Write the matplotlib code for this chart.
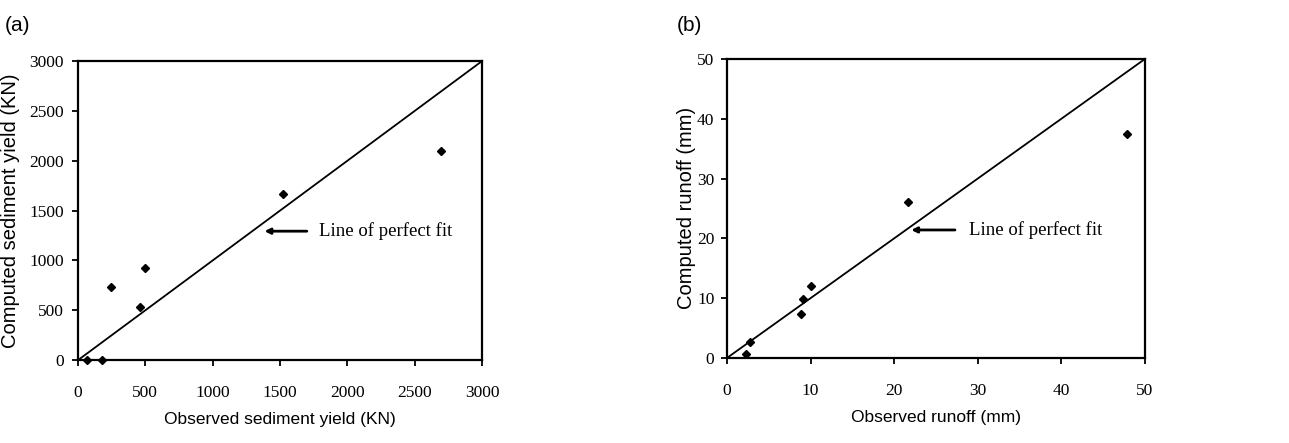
import matplotlib.pyplot as plt

# panel (a): sediment yield, KN
obs_sed = [69, 181, 245, 460, 497, 1520, 2696]
comp_sed = [0, 0, 729, 535, 920, 1672, 2097]

# panel (b): runoff, mm
obs_run = [2.3, 2.75, 8.85, 9.05, 10.05, 21.6, 47.9]
comp_run = [0.7, 2.7, 7.4, 9.8, 12.1, 26.1, 37.4]

sed_ticks = [0, 500, 1000, 1500, 2000, 2500, 3000]
run_ticks = [0, 10, 20, 30, 40, 50]

serif = 'Liberation Serif'
sans = 'Liberation Sans'

fig = plt.figure(figsize=(12.89, 4.43), dpi=100)
ax1 = fig.add_axes([0.0605, 0.187, 0.3134, 0.675])
ax2 = fig.add_axes([0.564, 0.192, 0.3243, 0.675])


def style_axes(ax, ticks, xlabel, ylabel, ylab_x, ypad):
    ax.set_xlim(ticks[0], ticks[-1])
    ax.set_ylim(ticks[0], ticks[-1])
    ax.set_xticks(ticks)
    ax.set_yticks(ticks)
    for lab in ax.get_xticklabels() + ax.get_yticklabels():
        lab.set_fontfamily(serif)
        lab.set_fontsize(12.5)
    ax.tick_params(direction='out', length=4, width=1.3)
    ax.tick_params(axis='x', pad=14)
    ax.tick_params(axis='y', pad=ypad)
    ax.tick_params(top=False, right=False)
    for s in ax.spines.values():
        s.set_linewidth(1.6)
    ax.set_xlabel(xlabel, fontsize=12.5, family=sans, labelpad=8)
    ax.set_ylabel(ylabel, fontsize=14.5, family=sans)
    ax.yaxis.set_label_coords(ylab_x, 0.5)


# (a)
ax1.plot([0, 3000], [0, 3000], color='black', lw=1.3)
ax1.plot(obs_sed, comp_sed, linestyle='None', marker='D', ms=4, color='black', clip_on=False)
ax1.annotate('', xy=(1364, 1294), xytext=(1720, 1294),
             arrowprops=dict(arrowstyle='-|>', color='black', lw=2, mutation_scale=8))
ax1.text(1790, 1294, 'Line of perfect fit', family=serif, fontsize=13.5, va='center')
style_axes(ax1, sed_ticks, 'Observed sediment yield (KN)', 'Computed sediment yield (KN)', -0.143, 6)
fig.text(0.004, 0.93, '(a)', fontsize=15, family=sans)

# (b)
ax2.plot([0, 50], [0, 50], color='black', lw=1.3)
ax2.plot(obs_run, comp_run, linestyle='None', marker='D', ms=4, color='black', clip_on=False)
ax2.annotate('', xy=(21.7, 21.4), xytext=(27.6, 21.4),
             arrowprops=dict(arrowstyle='-|>', color='black', lw=2, mutation_scale=8))
ax2.text(29.0, 21.4, 'Line of perfect fit', family=serif, fontsize=13.5, va='center')
style_axes(ax2, run_ticks, 'Observed runoff (mm)', 'Computed runoff (mm)', -0.075, 5)
fig.text(0.525, 0.93, '(b)', fontsize=15, family=sans)

fig.savefig('out.png', dpi=100)
